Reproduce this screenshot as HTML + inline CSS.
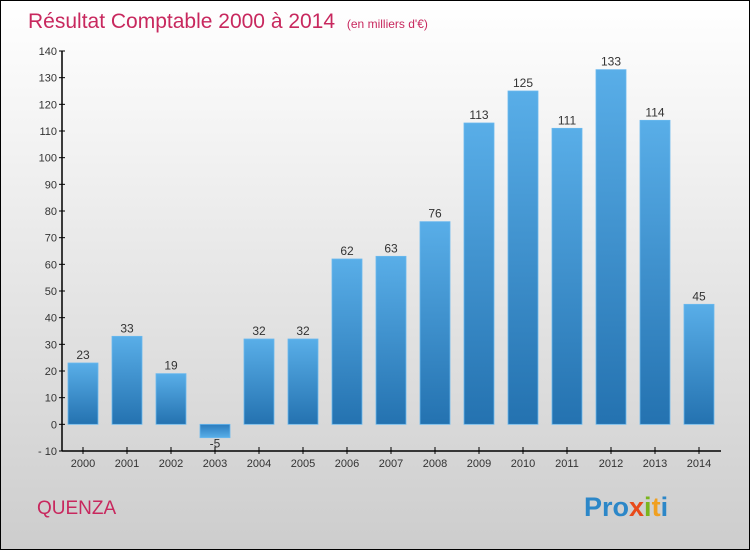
<!DOCTYPE html>
<html><head><meta charset="utf-8"><style>
body{margin:0;width:750px;height:550px;overflow:hidden;font-family:"Liberation Sans",sans-serif}
#frame{position:absolute;left:0;top:0;width:748px;height:548px;border:1px solid #000;background:linear-gradient(#fff,#f3f3f3 25%,#cdcdcd)}
</style></head><body>
<div id="frame">
<svg width="750" height="550" style="position:absolute;left:0;top:0">
<defs>
<linearGradient id="gp" x1="0" y1="0" x2="0" y2="1"><stop offset="0" stop-color="#59aee8"/><stop offset="1" stop-color="#2472b0"/></linearGradient>
<linearGradient id="gn" x1="0" y1="0" x2="0" y2="1"><stop offset="0" stop-color="#2a7bbd"/><stop offset="1" stop-color="#59aee8"/></linearGradient>
</defs>
<text x="27" y="27" font-size="21" fill="#c8285e">Résultat Comptable 2000 à 2014 <tspan font-size="12" dx="6">(en milliers d'€)</tspan></text>
<g id="yaxis"></g>
<g id="bars"></g>
<g id="xaxis"></g>
<text x="36" y="513" font-size="19" fill="#c8285e">QUENZA</text>
<text x="583" y="515" font-size="27" font-weight="bold"><tspan fill="#2c87c8">Pro</tspan><tspan fill="#e84a1a">x</tspan><tspan fill="#7ab51d">i</tspan><tspan fill="#f0a020">t</tspan><tspan fill="#2c87c8">i</tspan></text>
</svg></div>
<script>
const years=["2000","2001","2002","2003","2004","2005","2006","2007","2008","2009","2010","2011","2012","2013","2014"];
const values=[23,33,19,-5,32,32,62,63,76,113,125,111,133,114,45];
const yTicks=[-10,0,10,20,30,40,50,60,70,80,90,100,110,120,130,140];
const NS="http://www.w3.org/2000/svg";
const y=v=>450-(v+10)*400/150;
const x=i=>82+i*44;
function mk(t,a,p,txt){const e=document.createElementNS(NS,t);for(const k in a)e.setAttribute(k,a[k]);if(txt!==undefined)e.textContent=txt;p.appendChild(e);return e;}
const ya=document.getElementById('yaxis'),xa=document.getElementById('xaxis'),bg=document.getElementById('bars');
mk('line',{x1:61,y1:50,x2:61,y2:450,stroke:'#000','stroke-width':1.5},ya);
yTicks.forEach(t=>{
 const l=mk('line',{x1:58,y1:y(t),x2:64,y2:y(t),stroke:'#000'},ya);
 
 
 const s=mk('text',{x:56,y:y(t)+4,'font-size':11,fill:'#333','text-anchor':'end'},ya,t<0?'- '+(-t):t);
 
 
});
mk('line',{x1:61,y1:450,x2:720,y2:450,stroke:'#000','stroke-width':1.5},xa);
years.forEach((yr,i)=>{
 mk('line',{x1:x(i),y1:446,x2:x(i),y2:453,stroke:'#000'},xa);
 const s=mk('text',{x:x(i),y:466,'font-size':11,fill:'#333','text-anchor':'middle'},xa,yr);
 
 
 const v=values[i],top=Math.min(y(v),y(0)),h=Math.abs(y(v)-y(0));
 const r=mk('rect',{x:x(i)-15,y:top,width:30,height:h,fill:v<0?'url(#gn)':'url(#gp)',stroke:'#6ab8ee','stroke-width':0.8},bg);
 
 
 const lb=mk('text',{x:x(i),y:v<0?y(v)+10:y(v)-4,'font-size':12,fill:'#333','text-anchor':'middle'},bg,v);
 
 
});
</script>
</body></html>
